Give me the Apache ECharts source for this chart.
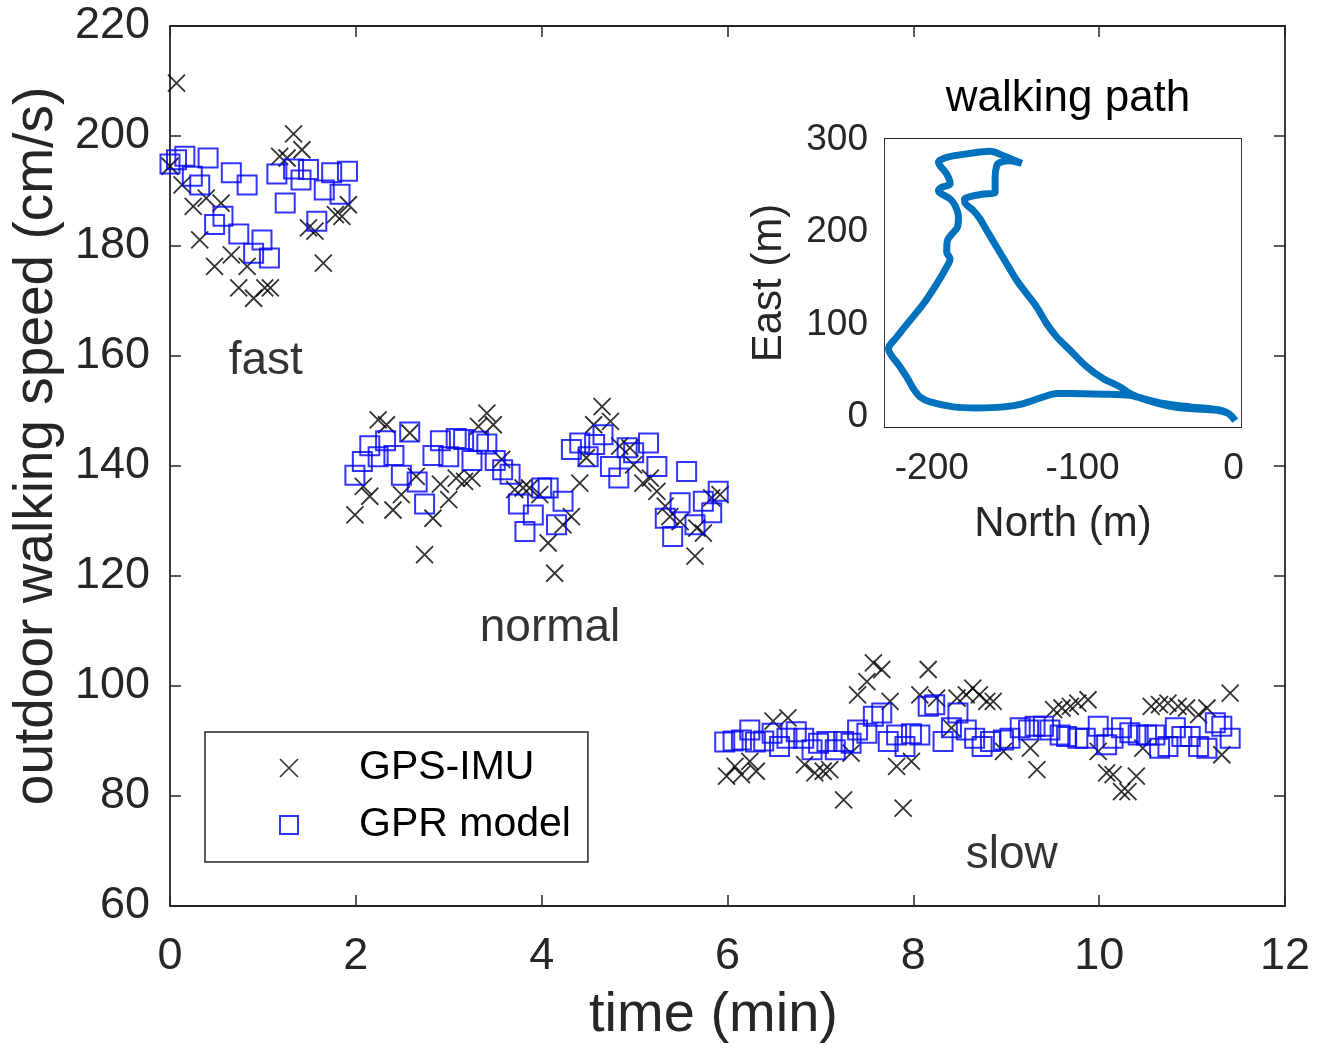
<!DOCTYPE html>
<html>
<head>
<meta charset="utf-8">
<title>walking speed</title>
<script src="https://cdn.jsdelivr.net/npm/echarts@6/dist/echarts.min.js"></script>
<style>
  html, body { margin: 0; padding: 0; background: #fff; }
  #chart { width: 1327px; height: 1049px; }
</style>
</head>
<body>
<div id="chart"></div>
<script>
// GPS-IMU measured speed (time in min, speed in cm/s)
var imuTime = [0.00, 0.07, 0.13, 0.25, 0.32, 0.39, 0.48, 0.55, 0.66, 0.74, 0.83, 0.90, 1.02, 1.08, 1.18, 1.26, 1.33, 1.42, 1.49, 1.56, 1.65, 1.78, 1.85, 1.92,
  1.99, 2.08, 2.15, 2.24, 2.33, 2.40, 2.49, 2.58, 2.65, 2.74, 2.83, 2.91, 3.00, 3.08, 3.17, 3.25, 3.32, 3.41, 3.48, 3.57, 3.71, 3.80, 3.87, 3.98,
  4.07, 4.14, 4.23, 4.32, 4.41, 4.48, 4.56, 4.65, 4.74, 4.84, 4.95, 4.99, 5.09, 5.17, 5.24, 5.33, 5.38, 5.49, 5.65, 5.67, 5.74, 5.83, 5.92,
  5.99, 6.08, 6.15, 6.24, 6.31, 6.49, 6.65, 6.83, 6.94, 7.03, 7.10, 7.25, 7.33, 7.40, 7.50, 7.57, 7.66, 7.75, 7.82, 7.89, 7.98,
  8.07, 8.16, 8.25, 8.41, 8.47, 8.57, 8.64, 8.71, 8.79, 8.86, 8.97, 9.26, 9.33, 9.51, 9.60, 9.69, 9.77, 9.88, 9.99,
  10.08, 10.15, 10.24, 10.31, 10.40, 10.47, 10.56, 10.65, 10.74, 10.85, 10.94, 11.07, 11.16, 11.32, 11.41];
var imuSpeed = [194.5, 209.6, 191.1, 187.2, 181.1, 188.7, 176.3, 187.8, 178.4, 172.4, 176.3, 170.5, 172.4, 172.4, 196.3, 196.0, 200.4, 197.5, 183.3, 182.7, 176.9, 185.7, 185.4, 187.5,
  131.1, 136.3, 134.5, 148.4, 147.5, 132.0, 134.8, 146.0, 138.1, 123.9, 130.5, 136.7, 133.9, 137.8, 137.2, 137.8, 147.2, 149.6, 147.5, 141.2, 135.7, 136.0, 136.0, 134.8,
  126.0, 120.5, 129.3, 130.8, 136.9, 141.5, 147.5, 150.8, 148.1, 143.6, 143.3, 140.2, 136.9, 137.8, 135.4, 132.7, 130.8, 129.9, 123.6, 128.7, 127.8, 134.2, 134.8,
  83.6, 85.4, 83.9, 86.3, 84.5, 93.6, 94.2, 85.7, 84.2, 84.5, 84.8, 79.3, 87.8, 98.4, 100.8, 104.2, 103.0, 97.2, 85.4, 77.8, 86.3,
  98.4, 103.0, 97.8, 92.4, 97.8, 98.4, 99.6, 98.4, 97.2, 97.2, 88.1, 88.7, 84.8, 95.7, 96.0, 96.3, 96.9, 97.5, 88.1,
  84.2, 83.9, 80.8, 80.8, 83.6, 88.7, 96.3, 96.6, 96.9, 96.3, 96.0, 94.8, 96.0, 87.5, 98.7];

// GPR model prediction
var gprTime = [0.00, 0.07, 0.16, 0.24, 0.32, 0.41, 0.48, 0.57, 0.66, 0.74, 0.83, 0.90, 0.99, 1.07, 1.15, 1.24, 1.33, 1.41, 1.49, 1.58, 1.66, 1.74, 1.83, 1.91,
  1.99, 2.07, 2.15, 2.24, 2.32, 2.41, 2.49, 2.58, 2.66, 2.74, 2.83, 2.91, 3.00, 3.08, 3.16, 3.25, 3.32, 3.41, 3.50, 3.58, 3.66, 3.75, 3.82, 3.91,
  4.00, 4.07, 4.16, 4.23, 4.32, 4.41, 4.50, 4.57, 4.66, 4.74, 4.83, 4.92, 4.99, 5.15, 5.24, 5.33, 5.41, 5.49, 5.56, 5.65, 5.74, 5.83, 5.90,
  5.97, 6.06, 6.15, 6.24, 6.30, 6.39, 6.48, 6.56, 6.64, 6.74, 6.82, 6.91, 6.98, 7.07, 7.16, 7.25, 7.33, 7.40, 7.50, 7.57, 7.66, 7.73, 7.82, 7.91, 7.98,
  8.07, 8.16, 8.23, 8.32, 8.41, 8.48, 8.57, 8.66, 8.74, 8.83, 8.97, 9.04, 9.15, 9.24, 9.31, 9.40, 9.47, 9.58, 9.65, 9.77, 9.85, 9.99,
  10.08, 10.15, 10.24, 10.33, 10.42, 10.51, 10.60, 10.65, 10.74, 10.82, 10.89, 10.98, 11.07, 11.16, 11.25, 11.32, 11.41];
var gprSpeed = [194.9, 195.7, 196.3, 192.7, 191.1, 196.0, 183.9, 185.4, 193.3, 182.2, 191.1, 178.7, 181.1, 177.8, 193.1, 187.8, 194.0, 192.0, 193.9, 184.5, 190.2, 193.3, 189.4, 193.6,
  138.3, 140.8, 143.7, 141.7, 144.6, 141.9, 138.3, 146.2, 137.1, 133.1, 141.9, 144.6, 141.7, 145.0, 144.8, 141.0, 144.5, 144.0, 141.0, 139.3, 138.5, 133.1, 128.1, 131.1,
  136.0, 136.0, 129.3, 133.6, 143.0, 144.2, 141.7, 143.9, 145.7, 139.9, 137.8, 143.3, 142.4, 144.2, 139.9, 130.5, 127.2, 133.3, 139.0, 129.3, 133.6, 131.5, 135.4,
  89.8, 90.0, 90.2, 92.0, 89.8, 90.0, 91.4, 89.0, 90.5, 91.7, 90.5, 88.4, 89.6, 89.9, 88.4, 89.9, 89.6, 92.0, 91.4, 94.5, 95.1, 89.9, 91.1, 89.0, 91.3,
  91.1, 96.3, 96.6, 89.9, 92.4, 95.1, 92.0, 90.5, 89.0, 89.9, 90.2, 90.5, 92.4, 92.0, 92.7, 92.7, 92.0, 91.1, 90.8, 90.5, 90.5, 92.7,
  89.3, 90.5, 92.4, 91.5, 91.1, 91.1, 91.1, 88.7, 89.0, 92.4, 90.8, 90.8, 89.0, 88.7, 93.3, 92.7, 90.5];

// walking path (inset), metres
var pathNorth = [1.1, -3.3, -11.0, -28.7, -46.4, -64.1, -68.5, -86.2, -108.3, -117.1, -126.0, -139.2, -152.5, -170.2, -185.6, -201.1, -207.7, -212.2, -216.6, -221.0, -228.7,
  -223.2, -214.4, -205.5, -196.7, -189.0, -187.8, -190.1, -189.6, -185.6, -183.0, -182.3, -184.5, -187.8, -195.6, -193.4, -187.8, -190.1, -194.5, -195.6, -190.1,
  -174.6, -161.3, -152.5, -145.9, -140.3, -148.1, -154.7, -156.9, -158.0, -158.0, -165.7, -174.6, -178.3, -177.9, -172.4, -168.0, -163.5, -156.9, -150.3, -143.6,
  -137.0, -130.4, -123.8, -117.1, -108.3, -97.2, -86.2, -75.1, -68.5, -57.5, -42.0, -28.7, -11.0, -3.3, 1.1];
var pathEast = [-4.3, 3.6, 7.9, 10.8, 14.4, 21.6, 23.4, 24.5, 25.2, 25.2, 21.6, 14.4, 10.8, 9.7, 10.8, 16.2, 21.6, 30.6, 43.2, 54.1, 73.9,
  86.5, 104.5, 122.5, 144.1, 165.8, 171.2, 178.4, 191.0, 200.0, 205.4, 216.2, 228.8, 236.0, 245.0, 248.6, 252.3, 263.1, 272.1, 275.7, 281.1,
  285.4, 287.6, 282.9, 278.2, 274.6, 277.5, 275.7, 272.1, 259.5, 243.2, 241.4, 238.6, 236.0, 231.4, 223.4, 214.4, 201.8, 183.8, 165.8, 147.7,
  133.3, 118.9, 100.9, 86.5, 72.1, 54.1, 41.4, 32.4, 25.2, 18.0, 11.5, 9.0, 7.2, 3.6, -3.6];

var insetXTicks = [-200, -100, 0];
var insetYTicks = [0, 100, 200, 300];

// text annotations for the three walking phases
var phaseNames = ['fast', 'normal', 'slow'];
var phaseTime = [1.03, 4.09, 9.06];
var phaseSpeed = [159.0, 110.4, 69.3];

var axisColor = '#262626';
var fontName = 'Liberation Sans, Arial, sans-serif';
var crossPath = 'path://M0,0L10,10M10,0L0,10';

function pairs(xs, ys) {
  return xs.map(function (x, i) { return [x, ys[i]]; });
}

// box axis (ticks inside, no labels) used for top / right sides
function boxAxis(pos, grid, min, max, interval, ticks, len) {
  var a = {
    type: 'value', gridIndex: grid, position: pos, min: min, max: max,
    axisLine: { show: true, onZero: false, lineStyle: { color: axisColor, width: 1.8 } },
    axisTick: { show: true, inside: true, length: len, lineStyle: { color: axisColor, width: 1.5 } },
    axisLabel: { show: false },
    splitLine: { show: false }
  };
  if (interval) a.interval = interval;
  if (ticks) a.axisTick.customValues = ticks;
  return a;
}

var myChart = echarts.init(document.getElementById('chart'), null, { renderer: 'canvas' });

var option = {
  backgroundColor: '#fff',
  animation: false,
  textStyle: { fontFamily: fontName },
  title: {
    text: 'walking path',
    left: 1063,
    top: 72,
    textAlign: 'center',
    textStyle: { fontSize: 44, fontWeight: 'normal', color: '#000', fontFamily: fontName }
  },
  legend: {
    left: 205,
    top: 732,
    orient: 'vertical',
    itemWidth: 18,
    itemHeight: 18,
    itemGap: 13,
    padding: [14, 17, 15, 74],
    borderColor: axisColor,
    borderWidth: 1.5,
    backgroundColor: '#fff',
    textStyle: { fontSize: 41, color: '#000', lineHeight: 44, padding: [0, 0, 0, 56], fontFamily: fontName },
    data: [
      { name: 'GPS-IMU', icon: crossPath, itemStyle: { color: 'transparent', borderColor: '#000', borderWidth: 1.6 } },
      { name: 'GPR model', icon: 'rect', itemStyle: { color: 'transparent', borderColor: '#0000ff', borderWidth: 2 } }
    ]
  },
  grid: [
    { left: 170, top: 26, width: 1115, height: 882, containLabel: false },
    { left: 885, top: 139, width: 356, height: 288, show: true, backgroundColor: '#fff', borderWidth: 0, z: 5 }
  ],
  xAxis: [
    {
      type: 'value', gridIndex: 0, position: 'bottom', min: 0, max: 12, interval: 2,
      name: 'time (min)', nameLocation: 'middle', nameGap: 82,
      nameTextStyle: { fontSize: 56, color: axisColor, fontFamily: fontName, padding: [0, 28, 0, 0] },
      axisLine: { show: true, onZero: false, lineStyle: { color: axisColor, width: 1.8 } },
      axisTick: { show: true, inside: true, length: 11, lineStyle: { color: axisColor, width: 1.5 } },
      axisLabel: { fontSize: 45, color: axisColor, margin: 28, fontFamily: fontName },
      splitLine: { show: false }
    },
    boxAxis('top', 0, 0, 12, 2, null, 11),
    {
      type: 'value', gridIndex: 1, position: 'bottom', min: -231, max: 5,
      name: 'North (m)', nameLocation: 'middle', nameGap: 76,
      nameTextStyle: { fontSize: 42, color: axisColor, fontFamily: fontName },
      axisLine: { show: true, onZero: false, lineStyle: { color: axisColor, width: 1.8 } },
      axisTick: { show: true, inside: true, length: 8, customValues: insetXTicks, lineStyle: { color: axisColor, width: 1.5 } },
      axisLabel: { fontSize: 37, color: axisColor, margin: 23, customValues: insetXTicks, fontFamily: fontName },
      splitLine: { show: false }
    },
    boxAxis('top', 1, -231, 5, null, insetXTicks, 8)
  ],
  yAxis: [
    {
      type: 'value', gridIndex: 0, position: 'left', min: 60, max: 220, interval: 20,
      name: 'outdoor walking speed (cm/s)', nameLocation: 'middle', nameGap: 100,
      nameTextStyle: { fontSize: 55, color: axisColor, fontFamily: fontName, padding: [0, 0, 0, 40] },
      axisLine: { show: true, onZero: false, lineStyle: { color: axisColor, width: 1.8 } },
      axisTick: { show: true, inside: true, length: 11, lineStyle: { color: axisColor, width: 1.5 } },
      axisLabel: { fontSize: 45, color: axisColor, margin: 20, fontFamily: fontName },
      splitLine: { show: false }
    },
    boxAxis('right', 0, 60, 220, 20, null, 11),
    {
      type: 'value', gridIndex: 1, position: 'left', min: -11, max: 301,
      name: 'East (m)', nameLocation: 'middle', nameGap: 95,
      nameTextStyle: { fontSize: 42, color: axisColor, fontFamily: fontName },
      axisLine: { show: true, onZero: false, lineStyle: { color: axisColor, width: 1.8 } },
      axisTick: { show: true, inside: true, length: 8, customValues: insetYTicks, lineStyle: { color: axisColor, width: 1.5 } },
      axisLabel: { fontSize: 37, color: axisColor, margin: 17, customValues: insetYTicks, fontFamily: fontName },
      splitLine: { show: false }
    },
    boxAxis('right', 1, -11, 301, null, insetYTicks, 8)
  ],
  series: [
    {
      name: 'GPS-IMU', type: 'scatter', xAxisIndex: 0, yAxisIndex: 0,
      symbol: crossPath, symbolSize: 17,
      itemStyle: { color: 'transparent', borderColor: '#000', borderWidth: 1.8 },
      data: pairs(imuTime, imuSpeed)
    },
    {
      name: 'GPR model', type: 'scatter', xAxisIndex: 0, yAxisIndex: 0,
      symbol: 'rect', symbolSize: 19,
      itemStyle: { color: 'transparent', borderColor: '#0000ff', borderWidth: 2 },
      data: pairs(gprTime, gprSpeed)
    },
    {
      name: 'phase', type: 'scatter', xAxisIndex: 0, yAxisIndex: 0, silent: true,
      symbolSize: 1, itemStyle: { color: 'transparent' },
      label: { show: true, position: 'inside', formatter: '{b}', fontSize: 46, color: '#000', fontFamily: fontName },
      data: phaseNames.map(function (n, i) { return { name: n, value: [phaseTime[i], phaseSpeed[i]] }; })
    },
    {
      name: 'path', type: 'line', xAxisIndex: 2, yAxisIndex: 2, z: 6,
      showSymbol: false, smooth: 0.3,
      lineStyle: { color: '#0072BD', width: 7 },
      data: pairs(pathNorth, pathEast)
    }
  ]
};

myChart.setOption(option);

window.addEventListener('resize', function () {
  myChart.resize();
});
</script>
</body>
</html>
